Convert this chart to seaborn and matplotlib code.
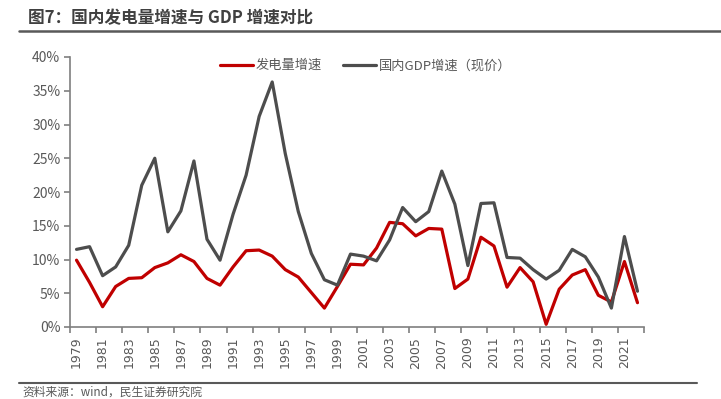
import matplotlib
matplotlib.use("Agg")
import matplotlib.pyplot as plt
from matplotlib.lines import Line2D
import seaborn as sns
import pandas as pd
import numpy as np

years = list(range(1979, 2023))
power_growth = [9.9, 6.6, 3.0, 6.0, 7.2, 7.3, 8.8, 9.5, 10.7, 9.7, 7.2, 6.2,
                8.9, 11.3, 11.4, 10.5, 8.5, 7.4, 5.1, 2.8, 6.0, 9.3, 9.2, 11.7,
                15.5, 15.3, 13.5, 14.6, 14.5, 5.7, 7.1, 13.3, 12.0, 5.9, 8.8,
                6.7, 0.4, 5.6, 7.7, 8.5, 4.7, 3.7, 9.7, 3.6]
gdp_growth = [11.5, 11.9, 7.6, 8.9, 12.1, 21.0, 25.0, 14.1, 17.2, 24.6, 13.0, 9.9,
              16.7, 22.5, 31.2, 36.3, 25.7, 17.1, 10.9, 7.0, 6.2, 10.8, 10.5, 9.8,
              12.9, 17.7, 15.6, 17.1, 23.1, 18.2, 9.1, 18.3, 18.4, 10.3, 10.2,
              8.5, 7.1, 8.4, 11.5, 10.4, 7.4, 2.8, 13.4, 5.3]
series_names = ["发电量增速", "国内GDP增速（现价）"]
series_colors = ["#C00000", "#4D4D4D"]
title_text = "图7：国内发电量增速与 GDP 增速对比"
source_text = "资料来源：wind，民生证券研究院"
y_ticks = [0, 5, 10, 15, 20, 25, 30, 35, 40]

df = pd.DataFrame({
    "year": years * 2,
    "value": power_growth + gdp_growth,
    "series": [series_names[0]] * len(years) + [series_names[1]] * len(years),
})

sns.set_style("white")
plt.rcParams["font.family"] = ["Noto Sans CJK SC", "DejaVu Sans"]

fig = plt.figure(figsize=(7.21, 3.99), dpi=100)
ax = fig.add_axes([70 / 721, 1 - 327 / 399, 574 / 721, 270 / 399])

sns.lineplot(data=df, x="year", y="value", hue="series", hue_order=series_names,
             palette=series_colors, linewidth=2.3, ax=ax, legend=False)

ax.set_xlim(years[0] - 0.5, years[-1] + 0.5)
ax.set_ylim(0, 40)
ax.set_xlabel("")
ax.set_ylabel("")

axis_color = "#7F7F7F"
text_color = "#595959"
for s in ["top", "right"]:
    ax.spines[s].set_visible(False)
for s in ["left", "bottom"]:
    ax.spines[s].set_color(axis_color)
    ax.spines[s].set_linewidth(1.2)

ax.set_yticks(y_ticks)
ax.set_yticklabels([f"{v}%" for v in y_ticks], fontsize=10, color=text_color)
ax.tick_params(axis="y", which="major", direction="out", length=4, width=1.2,
               color=axis_color, pad=3, left=True)

boundaries = np.arange(years[0] - 0.5, years[-1] + 0.51, 2)
ax.set_xticks(boundaries)
ax.set_xticklabels([])
ax.tick_params(axis="x", which="major", direction="out", length=4, width=1.2,
               color=axis_color, bottom=True)
label_years = years[::2]
ax.set_xticks(label_years, minor=True)
ax.set_xticklabels([str(y) for y in label_years], minor=True, rotation=90,
                   fontsize=9, color=text_color, family="DejaVu Sans")
ax.tick_params(axis="x", which="minor", length=0, pad=7)

handles = [Line2D([], [], color=c, linewidth=2.3) for c in series_colors]
leg = ax.legend(handles, series_names, loc="center", bbox_to_anchor=(0.515, 0.968),
                ncol=2, frameon=False, fontsize=9.5, handlelength=2.5,
                handletextpad=0.2, columnspacing=1.6)
for t in leg.get_texts():
    t.set_color(text_color)

fig.text(28 / 721, 1 - 18 / 399, title_text, fontsize=12, fontweight="bold",
         color="#404040", va="center", ha="left")
fig.add_artist(Line2D([19 / 721, 1.0], [1 - 30.5 / 399] * 2, color="#595959",
                      linewidth=1.8, transform=fig.transFigure))
fig.add_artist(Line2D([19 / 721, 697 / 721], [1 - 383 / 399] * 2, color="#595959",
                      linewidth=1.5, transform=fig.transFigure))
fig.text(22 / 721, 1 - 385.5 / 399, source_text, fontsize=8.5, color=text_color,
         va="top", ha="left")

fig.savefig("out.png", dpi=100)
